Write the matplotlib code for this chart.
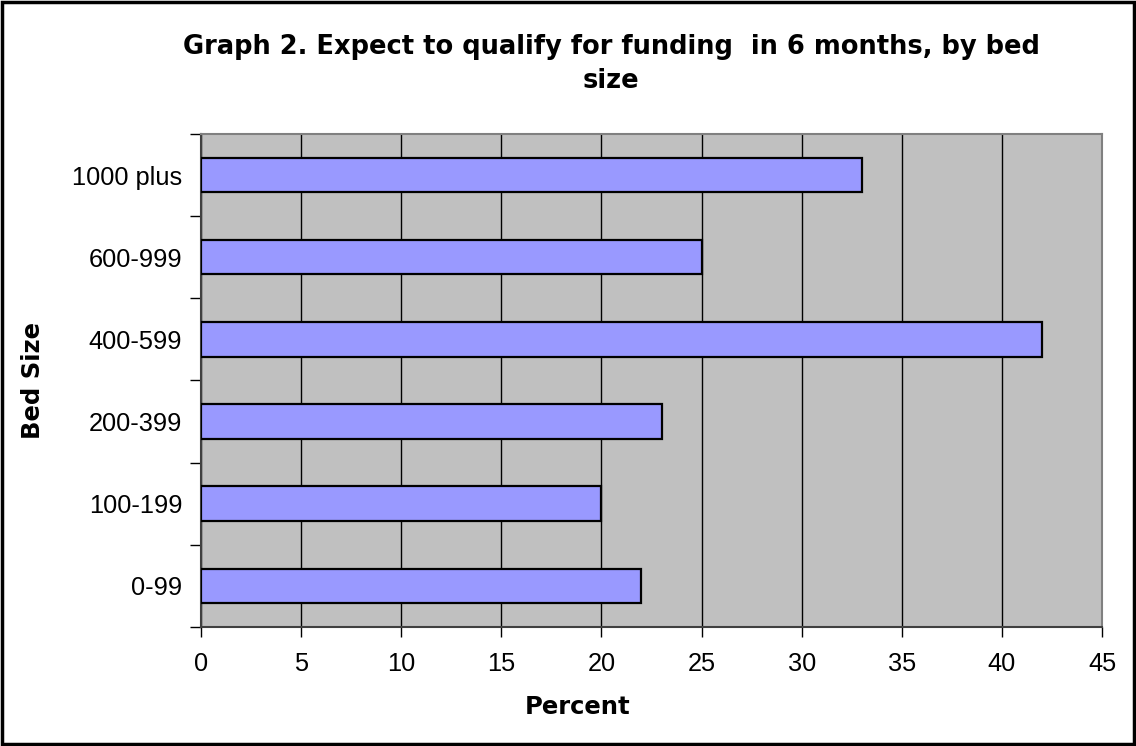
import numpy as np
import matplotlib.pyplot as plt
from matplotlib.patches import Rectangle
from matplotlib.ticker import FixedLocator

# bed size groups, bottom to top
bed_sizes = ["0-99", "100-199", "200-399", "400-599", "600-999", "1000 plus"]
percent = [22, 20, 23, 42, 25, 33]
x_ticks = list(range(0, 50, 5))

fig = plt.figure(figsize=(11.36, 7.46), dpi=100)
ax = fig.add_axes([0.1769, 0.1595, 0.7932, 0.6609])

ypos = np.arange(len(bed_sizes))
ax.set_facecolor("#C0C0C0")
ax.barh(ypos, percent, height=0.42, color="#9999FF", edgecolor="black",
        linewidth=1.6, zorder=3)

ax.set_xlim(0, 45)
ax.set_ylim(-0.5, len(bed_sizes) - 0.5)
ax.set_xticks(x_ticks)
ax.set_xticklabels([str(t) for t in x_ticks], fontsize=18.3,
                   family="Liberation Sans")
ax.set_yticks(ypos)
ax.set_yticklabels(bed_sizes, fontsize=18.3, family="Liberation Sans")
ax.yaxis.set_minor_locator(FixedLocator(np.arange(-0.5, len(bed_sizes), 1)))
ax.tick_params(axis="y", which="major", length=0, pad=13.5)
ax.tick_params(axis="y", which="minor", length=8, width=1, color="black",
               direction="out")
ax.tick_params(axis="x", which="major", length=7, width=1, color="black",
               direction="out", pad=11)

ax.grid(axis="x", color="black", linewidth=1, zorder=1)
ax.set_axisbelow(True)

ax.spines["left"].set_color("#404040")
ax.spines["bottom"].set_color("#404040")
ax.spines["top"].set_color("#808080")
ax.spines["right"].set_color("#808080")
for s in ax.spines.values():
    s.set_linewidth(1.5)

ax.set_xlabel("Percent", fontsize=17.5, fontweight="bold")
ax.xaxis.set_label_coords(0.418, -0.138)
ax.set_ylabel("Bed Size", fontsize=17.5, fontweight="bold")
ax.yaxis.set_label_coords(-0.173, 0.5)

fig.text(0.538, 0.914, "Graph 2. Expect to qualify for funding  in 6 months, by bed\nsize",
         ha="center", va="center", fontsize=18.5, fontweight="bold",
         linespacing=1.4)

# black frame around the whole chart area
fig.patches.append(Rectangle((0.002, 0.003), 0.996, 0.994, transform=fig.transFigure,
                             fill=False, edgecolor="black", linewidth=2.5))

fig.savefig("out.png", dpi=100, facecolor="white")
